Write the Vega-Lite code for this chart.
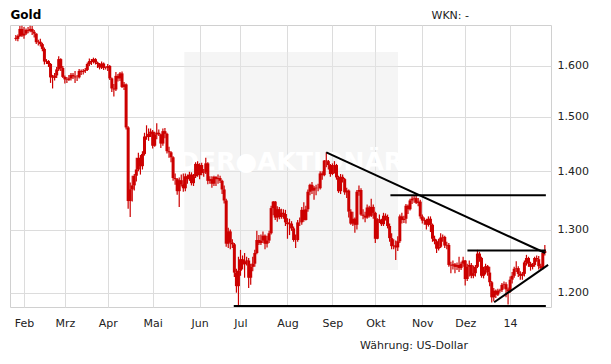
{
  "$schema": "https://vega.github.io/schema/vega-lite/v6.json",
  "width": 541,
  "height": 282,
  "autosize": {"type": "none"},
  "padding": {"left": 10, "top": 25, "right": 60, "bottom": 57},
  "background": "white",
  "title": {"text": "Währung: US-Dollar", "orient": "bottom", "anchor": "start", "frame": "group", "dx": 350, "font": "DejaVu Sans", "fontSize": 11, "fontWeight": "normal", "color": "#222222", "offset": 21, "baseline": "alphabetic"},
  "config": {
    "view": {"stroke": "#d0d0d0"},
    "axis": {"labelFont": "DejaVu Sans", "labelFontSize": 11, "labelColor": "#222222", "titleFont": "DejaVu Sans", "titleFontSize": 11, "titleFontWeight": "normal", "titleColor": "#222222", "gridColor": "#dcdcdc", "ticks": false}
  },
  "datasets": {
    "ohlc": [
      {"i":-4,"o":1658,"h":1664,"l":1652,"c":1656},
      {"i":-3,"o":1656,"h":1665,"l":1651,"c":1662},
      {"i":-2,"o":1662,"h":1683,"l":1660,"c":1677},
      {"i":-1,"o":1677,"h":1684,"l":1660,"c":1663},
      {"i":0,"o":1663,"h":1681,"l":1656,"c":1667},
      {"i":1,"o":1667,"h":1678,"l":1664,"c":1675},
      {"i":2,"o":1675,"h":1681,"l":1668,"c":1673},
      {"i":3,"o":1673,"h":1684,"l":1670,"c":1677},
      {"i":4,"o":1677,"h":1683,"l":1664,"c":1671},
      {"i":5,"o":1671,"h":1675,"l":1659,"c":1667},
      {"i":6,"o":1667,"h":1668,"l":1645,"c":1649},
      {"i":7,"o":1649,"h":1654,"l":1642,"c":1650},
      {"i":8,"o":1650,"h":1656,"l":1640,"c":1645},
      {"i":9,"o":1645,"h":1648,"l":1630,"c":1635},
      {"i":10,"o":1635,"h":1638,"l":1603,"c":1609},
      {"i":11,"o":1609,"h":1614,"l":1604,"c":1610},
      {"i":12,"o":1610,"h":1612,"l":1598,"c":1604},
      {"i":13,"o":1604,"h":1606,"l":1566,"c":1577},
      {"i":14,"o":1577,"h":1582,"l":1555,"c":1576},
      {"i":15,"o":1576,"h":1586,"l":1571,"c":1581},
      {"i":16,"o":1581,"h":1598,"l":1576,"c":1593},
      {"i":17,"o":1593,"h":1620,"l":1590,"c":1614},
      {"i":18,"o":1614,"h":1616,"l":1590,"c":1596},
      {"i":19,"o":1596,"h":1600,"l":1576,"c":1578},
      {"i":20,"o":1578,"h":1581,"l":1565,"c":1573},
      {"i":21,"o":1573,"h":1578,"l":1566,"c":1572},
      {"i":22,"o":1572,"h":1582,"l":1570,"c":1575},
      {"i":23,"o":1575,"h":1586,"l":1571,"c":1582},
      {"i":24,"o":1582,"h":1586,"l":1574,"c":1579},
      {"i":25,"o":1579,"h":1590,"l":1566,"c":1577},
      {"i":26,"o":1577,"h":1582,"l":1570,"c":1577},
      {"i":27,"o":1577,"h":1594,"l":1575,"c":1590},
      {"i":28,"o":1590,"h":1593,"l":1582,"c":1588},
      {"i":29,"o":1588,"h":1594,"l":1583,"c":1590},
      {"i":30,"o":1590,"h":1596,"l":1586,"c":1592},
      {"i":31,"o":1592,"h":1607,"l":1590,"c":1604},
      {"i":32,"o":1604,"h":1615,"l":1600,"c":1610},
      {"i":33,"o":1610,"h":1614,"l":1602,"c":1608},
      {"i":34,"o":1608,"h":1617,"l":1605,"c":1614},
      {"i":35,"o":1614,"h":1616,"l":1603,"c":1607},
      {"i":36,"o":1607,"h":1609,"l":1596,"c":1604},
      {"i":37,"o":1604,"h":1606,"l":1593,"c":1597},
      {"i":38,"o":1597,"h":1609,"l":1594,"c":1605},
      {"i":39,"o":1605,"h":1607,"l":1592,"c":1596},
      {"i":40,"o":1596,"h":1599,"l":1593,"c":1596},
      {"i":41,"o":1596,"h":1604,"l":1590,"c":1600},
      {"i":42,"o":1600,"h":1602,"l":1572,"c":1575},
      {"i":43,"o":1575,"h":1577,"l":1548,"c":1555},
      {"i":44,"o":1555,"h":1564,"l":1539,"c":1553},
      {"i":45,"o":1553,"h":1588,"l":1550,"c":1580},
      {"i":46,"o":1580,"h":1584,"l":1569,"c":1575},
      {"i":47,"o":1575,"h":1588,"l":1570,"c":1585},
      {"i":48,"o":1585,"h":1589,"l":1556,"c":1558},
      {"i":49,"o":1558,"h":1568,"l":1552,"c":1563},
      {"i":50,"o":1563,"h":1565,"l":1476,"c":1480},
      {"i":51,"o":1480,"h":1482,"l":1335,"c":1348},
      {"i":52,"o":1348,"h":1380,"l":1321,"c":1368},
      {"i":53,"o":1368,"h":1392,"l":1347,"c":1375},
      {"i":54,"o":1375,"h":1395,"l":1366,"c":1392},
      {"i":55,"o":1392,"h":1424,"l":1382,"c":1403},
      {"i":56,"o":1403,"h":1433,"l":1400,"c":1424},
      {"i":57,"o":1424,"h":1429,"l":1394,"c":1409},
      {"i":58,"o":1409,"h":1436,"l":1403,"c":1431},
      {"i":59,"o":1431,"h":1470,"l":1428,"c":1463},
      {"i":60,"o":1463,"h":1484,"l":1457,"c":1462},
      {"i":61,"o":1462,"h":1478,"l":1455,"c":1468},
      {"i":62,"o":1468,"h":1478,"l":1462,"c":1472},
      {"i":63,"o":1472,"h":1475,"l":1441,"c":1446},
      {"i":64,"o":1446,"h":1472,"l":1444,"c":1467},
      {"i":65,"o":1467,"h":1488,"l":1458,"c":1470},
      {"i":66,"o":1470,"h":1476,"l":1464,"c":1467},
      {"i":67,"o":1467,"h":1468,"l":1442,"c":1450},
      {"i":68,"o":1450,"h":1478,"l":1446,"c":1473},
      {"i":69,"o":1473,"h":1479,"l":1460,"c":1468},
      {"i":70,"o":1468,"h":1470,"l":1432,"c":1436},
      {"i":71,"o":1436,"h":1444,"l":1424,"c":1434},
      {"i":72,"o":1434,"h":1436,"l":1416,"c":1425},
      {"i":73,"o":1425,"h":1427,"l":1383,"c":1388},
      {"i":74,"o":1388,"h":1396,"l":1376,"c":1386},
      {"i":75,"o":1386,"h":1388,"l":1359,"c":1365},
      {"i":76,"o":1365,"h":1389,"l":1338,"c":1384},
      {"i":77,"o":1384,"h":1394,"l":1373,"c":1377},
      {"i":78,"o":1377,"h":1396,"l":1364,"c":1370},
      {"i":79,"o":1370,"h":1396,"l":1365,"c":1391},
      {"i":80,"o":1391,"h":1394,"l":1378,"c":1386},
      {"i":81,"o":1386,"h":1399,"l":1383,"c":1394},
      {"i":82,"o":1394,"h":1398,"l":1375,"c":1379},
      {"i":83,"o":1379,"h":1395,"l":1374,"c":1391},
      {"i":84,"o":1391,"h":1416,"l":1388,"c":1413},
      {"i":85,"o":1413,"h":1418,"l":1390,"c":1393},
      {"i":86,"o":1393,"h":1414,"l":1386,"c":1411},
      {"i":87,"o":1411,"h":1415,"l":1393,"c":1397},
      {"i":88,"o":1397,"h":1404,"l":1390,"c":1398},
      {"i":89,"o":1398,"h":1424,"l":1395,"c":1414},
      {"i":90,"o":1414,"h":1416,"l":1377,"c":1383},
      {"i":91,"o":1383,"h":1391,"l":1378,"c":1386},
      {"i":92,"o":1386,"h":1391,"l":1371,"c":1378},
      {"i":93,"o":1378,"h":1392,"l":1374,"c":1390},
      {"i":94,"o":1390,"h":1391,"l":1374,"c":1386},
      {"i":95,"o":1386,"h":1394,"l":1378,"c":1388},
      {"i":96,"o":1388,"h":1392,"l":1379,"c":1383},
      {"i":97,"o":1383,"h":1385,"l":1360,"c":1368},
      {"i":98,"o":1368,"h":1375,"l":1344,"c":1349},
      {"i":99,"o":1349,"h":1352,"l":1272,"c":1277},
      {"i":100,"o":1277,"h":1303,"l":1270,"c":1297},
      {"i":101,"o":1297,"h":1300,"l":1268,"c":1279},
      {"i":102,"o":1279,"h":1284,"l":1270,"c":1276},
      {"i":103,"o":1276,"h":1278,"l":1224,"c":1231},
      {"i":104,"o":1231,"h":1237,"l":1200,"c":1210},
      {"i":105,"o":1210,"h":1256,"l":1180,"c":1234},
      {"i":106,"o":1234,"h":1267,"l":1226,"c":1252},
      {"i":107,"o":1252,"h":1258,"l":1236,"c":1244},
      {"i":108,"o":1244,"h":1262,"l":1223,"c":1249},
      {"i":109,"o":1249,"h":1256,"l":1242,"c":1250},
      {"i":110,"o":1250,"h":1254,"l":1207,"c":1223},
      {"i":111,"o":1223,"h":1245,"l":1212,"c":1240},
      {"i":112,"o":1240,"h":1256,"l":1233,"c":1245},
      {"i":113,"o":1245,"h":1267,"l":1240,"c":1262},
      {"i":114,"o":1262,"h":1298,"l":1260,"c":1283},
      {"i":115,"o":1283,"h":1291,"l":1275,"c":1278},
      {"i":116,"o":1278,"h":1292,"l":1275,"c":1282},
      {"i":117,"o":1282,"h":1297,"l":1278,"c":1290},
      {"i":118,"o":1290,"h":1292,"l":1268,"c":1277},
      {"i":119,"o":1277,"h":1290,"l":1271,"c":1282},
      {"i":120,"o":1282,"h":1298,"l":1278,"c":1294},
      {"i":121,"o":1294,"h":1340,"l":1292,"c":1336},
      {"i":122,"o":1336,"h":1348,"l":1324,"c":1347},
      {"i":123,"o":1347,"h":1348,"l":1316,"c":1320},
      {"i":124,"o":1320,"h":1339,"l":1313,"c":1334},
      {"i":125,"o":1334,"h":1338,"l":1317,"c":1321},
      {"i":126,"o":1321,"h":1335,"l":1318,"c":1328},
      {"i":127,"o":1328,"h":1334,"l":1318,"c":1326},
      {"i":128,"o":1326,"h":1333,"l":1306,"c":1312},
      {"i":129,"o":1312,"h":1319,"l":1285,"c":1309},
      {"i":130,"o":1309,"h":1318,"l":1291,"c":1310},
      {"i":131,"o":1310,"h":1314,"l":1298,"c":1302},
      {"i":132,"o":1302,"h":1305,"l":1280,"c":1283},
      {"i":133,"o":1283,"h":1292,"l":1270,"c":1283},
      {"i":134,"o":1283,"h":1316,"l":1280,"c":1312},
      {"i":135,"o":1312,"h":1320,"l":1306,"c":1312},
      {"i":136,"o":1312,"h":1338,"l":1308,"c":1333},
      {"i":137,"o":1333,"h":1346,"l":1313,"c":1316},
      {"i":138,"o":1316,"h":1340,"l":1315,"c":1334},
      {"i":139,"o":1334,"h":1368,"l":1330,"c":1364},
      {"i":140,"o":1364,"h":1378,"l":1358,"c":1376},
      {"i":141,"o":1376,"h":1381,"l":1360,"c":1366},
      {"i":142,"o":1366,"h":1374,"l":1350,"c":1371},
      {"i":143,"o":1371,"h":1376,"l":1358,"c":1370},
      {"i":144,"o":1370,"h":1378,"l":1365,"c":1370},
      {"i":145,"o":1370,"h":1400,"l":1368,"c":1396},
      {"i":146,"o":1396,"h":1400,"l":1385,"c":1393},
      {"i":147,"o":1393,"h":1420,"l":1391,"c":1419},
      {"i":148,"o":1419,"h":1434,"l":1407,"c":1418},
      {"i":149,"o":1418,"h":1420,"l":1403,"c":1411},
      {"i":150,"o":1411,"h":1413,"l":1390,"c":1395},
      {"i":151,"o":1395,"h":1414,"l":1393,"c":1411},
      {"i":152,"o":1411,"h":1418,"l":1396,"c":1411},
      {"i":153,"o":1411,"h":1413,"l":1385,"c":1389},
      {"i":154,"o":1389,"h":1392,"l":1362,"c":1365},
      {"i":155,"o":1365,"h":1395,"l":1360,"c":1390},
      {"i":156,"o":1390,"h":1394,"l":1380,"c":1386},
      {"i":157,"o":1386,"h":1388,"l":1359,"c":1363},
      {"i":158,"o":1363,"h":1371,"l":1353,"c":1366},
      {"i":159,"o":1366,"h":1368,"l":1320,"c":1330},
      {"i":160,"o":1330,"h":1334,"l":1308,"c":1310},
      {"i":161,"o":1310,"h":1330,"l":1306,"c":1318},
      {"i":162,"o":1318,"h":1320,"l":1295,"c":1308},
      {"i":163,"o":1308,"h":1367,"l":1300,"c":1364},
      {"i":164,"o":1364,"h":1375,"l":1357,"c":1367},
      {"i":165,"o":1367,"h":1370,"l":1323,"c":1325},
      {"i":166,"o":1325,"h":1334,"l":1317,"c":1323},
      {"i":167,"o":1323,"h":1330,"l":1312,"c":1320},
      {"i":168,"o":1320,"h":1342,"l":1318,"c":1337},
      {"i":169,"o":1337,"h":1340,"l":1320,"c":1323},
      {"i":170,"o":1323,"h":1352,"l":1321,"c":1338},
      {"i":171,"o":1338,"h":1342,"l":1318,"c":1328},
      {"i":172,"o":1328,"h":1330,"l":1278,"c":1285},
      {"i":173,"o":1285,"h":1319,"l":1284,"c":1317},
      {"i":174,"o":1317,"h":1325,"l":1311,"c":1316},
      {"i":175,"o":1316,"h":1318,"l":1306,"c":1309},
      {"i":176,"o":1309,"h":1328,"l":1306,"c":1323},
      {"i":177,"o":1323,"h":1327,"l":1315,"c":1321},
      {"i":178,"o":1321,"h":1325,"l":1302,"c":1306},
      {"i":179,"o":1306,"h":1310,"l":1280,"c":1286},
      {"i":180,"o":1286,"h":1294,"l":1268,"c":1273},
      {"i":181,"o":1273,"h":1284,"l":1268,"c":1274},
      {"i":182,"o":1274,"h":1282,"l":1251,"c":1271},
      {"i":183,"o":1271,"h":1289,"l":1265,"c":1281},
      {"i":184,"o":1281,"h":1325,"l":1278,"c":1322},
      {"i":185,"o":1322,"h":1328,"l":1310,"c":1316},
      {"i":186,"o":1316,"h":1323,"l":1311,"c":1318},
      {"i":187,"o":1318,"h":1343,"l":1310,"c":1340},
      {"i":188,"o":1340,"h":1342,"l":1326,"c":1334},
      {"i":189,"o":1334,"h":1352,"l":1332,"c":1349},
      {"i":190,"o":1349,"h":1356,"l":1343,"c":1352},
      {"i":191,"o":1352,"h":1358,"l":1345,"c":1353},
      {"i":192,"o":1353,"h":1361,"l":1343,"c":1345},
      {"i":193,"o":1345,"h":1353,"l":1339,"c":1347},
      {"i":194,"o":1347,"h":1350,"l":1318,"c":1322},
      {"i":195,"o":1322,"h":1325,"l":1310,"c":1315},
      {"i":196,"o":1315,"h":1320,"l":1308,"c":1316},
      {"i":197,"o":1316,"h":1318,"l":1300,"c":1308},
      {"i":198,"o":1308,"h":1322,"l":1305,"c":1318},
      {"i":199,"o":1318,"h":1322,"l":1296,"c":1308},
      {"i":200,"o":1308,"h":1310,"l":1280,"c":1285},
      {"i":201,"o":1285,"h":1290,"l":1276,"c":1281},
      {"i":202,"o":1281,"h":1284,"l":1262,"c":1269},
      {"i":203,"o":1269,"h":1285,"l":1266,"c":1272},
      {"i":204,"o":1272,"h":1294,"l":1270,"c":1287},
      {"i":205,"o":1287,"h":1292,"l":1280,"c":1288},
      {"i":206,"o":1288,"h":1290,"l":1270,"c":1274},
      {"i":207,"o":1274,"h":1280,"l":1268,"c":1275},
      {"i":208,"o":1275,"h":1278,"l":1240,"c":1243},
      {"i":209,"o":1243,"h":1248,"l":1230,"c":1242},
      {"i":210,"o":1242,"h":1250,"l":1236,"c":1244},
      {"i":211,"o":1244,"h":1246,"l":1230,"c":1240},
      {"i":212,"o":1240,"h":1247,"l":1235,"c":1243},
      {"i":213,"o":1243,"h":1256,"l":1232,"c":1238},
      {"i":214,"o":1238,"h":1248,"l":1235,"c":1245},
      {"i":215,"o":1245,"h":1256,"l":1240,"c":1250},
      {"i":216,"o":1250,"h":1251,"l":1211,"c":1221},
      {"i":217,"o":1221,"h":1245,"l":1218,"c":1240},
      {"i":218,"o":1240,"h":1250,"l":1225,"c":1243},
      {"i":219,"o":1243,"h":1246,"l":1222,"c":1226},
      {"i":220,"o":1226,"h":1242,"l":1222,"c":1230},
      {"i":221,"o":1230,"h":1243,"l":1225,"c":1240},
      {"i":222,"o":1240,"h":1267,"l":1238,"c":1261},
      {"i":223,"o":1261,"h":1264,"l":1248,"c":1254},
      {"i":224,"o":1254,"h":1256,"l":1223,"c":1226},
      {"i":225,"o":1226,"h":1240,"l":1222,"c":1235},
      {"i":226,"o":1235,"h":1245,"l":1228,"c":1241},
      {"i":227,"o":1241,"h":1243,"l":1226,"c":1231},
      {"i":228,"o":1231,"h":1240,"l":1210,"c":1216},
      {"i":229,"o":1216,"h":1218,"l":1185,"c":1193},
      {"i":230,"o":1193,"h":1207,"l":1187,"c":1203},
      {"i":231,"o":1203,"h":1205,"l":1192,"c":1197},
      {"i":232,"o":1197,"h":1206,"l":1195,"c":1203},
      {"i":233,"o":1203,"h":1206,"l":1200,"c":1204},
      {"i":234,"o":1204,"h":1215,"l":1201,"c":1212},
      {"i":235,"o":1212,"h":1217,"l":1206,"c":1213},
      {"i":236,"o":1213,"h":1216,"l":1193,"c":1205},
      {"i":237,"o":1205,"h":1208,"l":1182,"c":1202},
      {"i":238,"o":1202,"h":1225,"l":1200,"c":1220},
      {"i":239,"o":1220,"h":1232,"l":1214,"c":1226},
      {"i":240,"o":1226,"h":1240,"l":1223,"c":1237},
      {"i":241,"o":1237,"h":1249,"l":1232,"c":1238},
      {"i":242,"o":1238,"h":1241,"l":1224,"c":1229},
      {"i":243,"o":1229,"h":1233,"l":1220,"c":1226},
      {"i":244,"o":1226,"h":1232,"l":1220,"c":1229},
      {"i":245,"o":1229,"h":1250,"l":1225,"c":1247},
      {"i":246,"o":1247,"h":1259,"l":1242,"c":1254},
      {"i":247,"o":1254,"h":1256,"l":1240,"c":1245},
      {"i":248,"o":1245,"h":1248,"l":1234,"c":1240},
      {"i":249,"o":1240,"h":1246,"l":1236,"c":1243},
      {"i":250,"o":1243,"h":1256,"l":1240,"c":1254},
      {"i":251,"o":1254,"h":1258,"l":1248,"c":1252},
      {"i":252,"o":1252,"h":1257,"l":1236,"c":1241},
      {"i":253,"o":1241,"h":1245,"l":1236,"c":1238},
      {"i":254,"o":1238,"h":1266,"l":1236,"c":1262},
      {"i":255,"o":1262,"h":1275,"l":1258,"c":1265}
    ],
    "lines": [
      {"x1": 102.7, "x2": 255.5, "y1": 1180, "y2": 1180},
      {"x1": 148, "x2": 255.2, "y1": 1434, "y2": 1262},
      {"x1": 179.4, "x2": 255.5, "y1": 1358, "y2": 1358},
      {"x1": 217.1, "x2": 255.5, "y1": 1266, "y2": 1266},
      {"x1": 230.2, "x2": 256.6, "y1": 1185.5, "y2": 1243}
    ]
  },
  "layer": [
    {
      "data": {"values": [{}]},
      "mark": {"type": "rect", "color": "#e8e8e8", "opacity": 0.42},
      "encoding": {
        "x": {"datum": 78.5, "type": "quantitative", "title": "WKN: -"},
        "x2": {"datum": 183.1},
        "y": {"datum": 1628.7, "type": "quantitative", "title": "Gold"},
        "y2": {"datum": 1235}
      }
    },
    {
      "data": {"values": [{}]},
      "mark": {"type": "text", "text": "DER●AKTIONÄR", "font": "DejaVu Sans", "fontSize": 25, "fontWeight": "bold", "color": "#ffffff", "baseline": "middle", "align": "center"},
      "encoding": {
        "x": {"datum": 130.6, "type": "quantitative", "title": "WKN: -"},
        "y": {"datum": 1416, "type": "quantitative", "title": "Gold"}
      }
    },
    {
      "data": {"name": "ohlc"},
      "mark": {"type": "rule", "color": "#cc0000", "strokeWidth": 1.2},
      "encoding": {
        "x": {
          "field": "i", "type": "quantitative", "title": "WKN: -",
          "scale": {"domain": [-4.4, 255.57], "nice": false, "zero": false},
          "axis": {
            "values": [0, 20, 41, 63, 86, 106, 129, 151, 172, 195, 216, 238],
            "labelExpr": "['Feb','Mrz','Apr','Mai','Jun','Jul','Aug','Sep','Okt','Nov','Dez','14'][indexof([0,20,41,63,86,106,129,151,172,195,216,238], datum.value)]",
            "grid": true, "domain": false, "labelPadding": 10, "labelAngle": 0, "labelAlign": "center", "labelFlush": false, "labelOverlap": false,
            "titleAnchor": "start", "titleAlign": "left", "titleBaseline": "alphabetic", "titleX": 421, "titleY": -289
          }
        },
        "y": {
          "field": "l", "type": "quantitative", "title": "Gold",
          "scale": {"type": "log", "domain": [1178.4, 1685.4], "nice": false, "zero": false},
          "axis": {
            "orient": "right",
            "values": [1200, 1300, 1400, 1500, 1600],
            "labelExpr": "replace(format(datum.value, ',d'), ',', '.')",
            "grid": true, "domain": false, "labelPadding": 6,
            "titleAngle": 0, "titleAlign": "left", "titleBaseline": "alphabetic", "titleX": -541, "titleY": -7, "titleAnchor": "start",
            "titleFontWeight": "bold", "titleFontSize": 12, "titleColor": "#000000"
          }
        },
        "y2": {"field": "h"}
      }
    },
    {
      "data": {"name": "ohlc"},
      "mark": {"type": "bar", "color": "#cc0000", "width": 3},
      "encoding": {
        "x": {"field": "i", "type": "quantitative", "title": "WKN: -"},
        "y": {"field": "o", "type": "quantitative", "title": "Gold"},
        "y2": {"field": "c"}
      }
    },
    {
      "data": {"name": "lines"},
      "mark": {"type": "rule", "color": "#000000", "strokeWidth": 2},
      "encoding": {
        "x": {"field": "x1", "type": "quantitative", "title": "WKN: -"},
        "x2": {"field": "x2"},
        "y": {"field": "y1", "type": "quantitative", "title": "Gold"},
        "y2": {"field": "y2"}
      }
    }
  ]
}
